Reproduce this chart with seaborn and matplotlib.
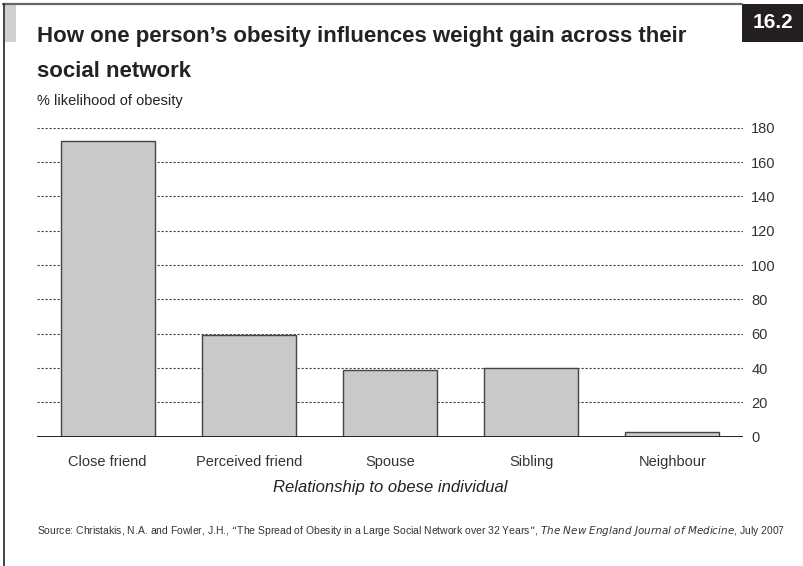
import pandas as pd
import matplotlib.pyplot as plt
import seaborn as sns
from matplotlib.patches import Rectangle
from matplotlib.lines import Line2D

sns.set_style("white")
plt.rcParams['font.family'] = ['Liberation Sans', 'DejaVu Sans']

# Data
relationships = ["Close friend", "Perceived friend", "Spouse", "Sibling", "Neighbour"]
likelihood = [172, 59, 39, 40, 3]
y_ticks = [0, 20, 40, 60, 80, 100, 120, 140, 160, 180]

df = pd.DataFrame({"relationship": relationships, "likelihood": likelihood})

W, H = 804, 566
fig = plt.figure(figsize=(W / 100, H / 100), dpi=100)
ax = fig.add_axes([37 / W, 1 - 436.7 / H, (743 - 37) / W, (436.7 - 127.7) / H])

sns.barplot(data=df, x="relationship", y="likelihood", ax=ax, color="#c8c9cb",
            edgecolor="#444444", linewidth=1.0, width=0.667, saturation=1, zorder=3)

ax.set_xlim(-0.5, 4.5)
ax.set_ylim(0, 180)
ax.set_yticks(y_ticks)
ax.yaxis.tick_right()
ax.tick_params(axis="y", length=0, pad=6, labelsize=10.5, labelcolor="#333333")
ax.tick_params(axis="x", length=0, pad=13, labelsize=10.5, labelcolor="#333333")
for t in y_ticks[1:]:
    ax.axhline(t, color="#444444", linestyle=(0, (2, 1.6)), linewidth=0.8, zorder=1)
ax.axhline(0, color="#222222", linewidth=1.4, zorder=4)
for s in ax.spines.values():
    s.set_visible(False)
ax.set_ylabel("")
ax.set_xlabel("Relationship to obese individual", fontsize=12, style="italic",
              color="#222222", labelpad=8)

# Titles
fig.text(37 / W, 1 - 42 / H, "How one person\u2019s obesity influences weight gain across their",
         fontsize=16, fontweight="bold", color="#222222", va="baseline")
fig.text(37 / W, 1 - 77 / H, "social network",
         fontsize=16, fontweight="bold", color="#222222", va="baseline")
fig.text(37 / W, 1 - 105 / H, "% likelihood of obesity", fontsize=10.5, color="#222222",
         va="baseline")

# Source
fig.text(37 / W, 1 - 534 / H,
         "Source: Christakis, N.A. and Fowler, J.H., \u201cThe Spread of Obesity in a Large Social "
         "Network over 32 Years\u201d, $\\it{The\\ New\\ England\\ Journal\\ of\\ Medicine}$, July 2007",
         fontsize=7.5, color="#333333", va="baseline")

# Frame decorations
fig.add_artist(Line2D([3 / W, 742 / W], [1 - 4 / H, 1 - 4 / H], color="#666666", linewidth=1.6))
fig.add_artist(Line2D([4 / W, 4 / W], [1 - 4 / H, 0], color="#222222", linewidth=1.2))
fig.add_artist(Rectangle((5 / W, 1 - 42 / H), 11 / W, 37 / H, color="#d0d0d0", linewidth=0))
fig.add_artist(Rectangle((742 / W, 1 - 42 / H), 62 / W, 38 / H, color="#231f20", linewidth=0))
fig.text(773 / W, 1 - 23 / H, "16.2", fontsize=15, fontweight="bold", color="white",
         ha="center", va="center")

fig.savefig("out.png", dpi=100)
